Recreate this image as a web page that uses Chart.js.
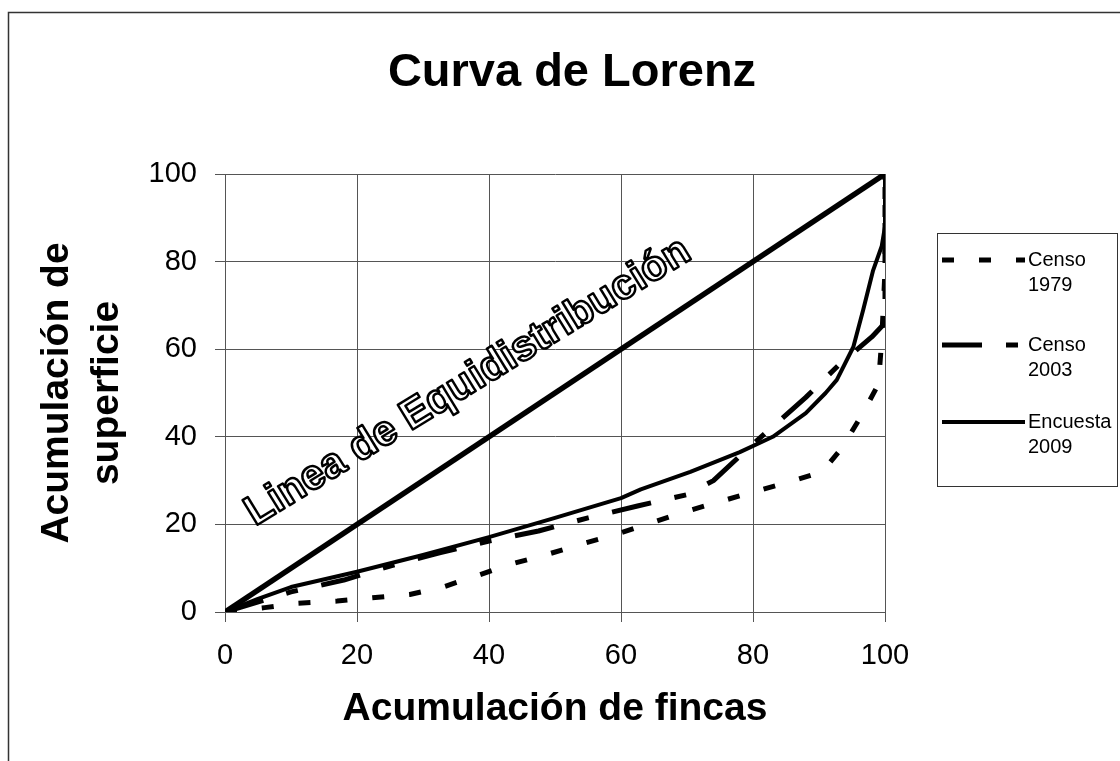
<!DOCTYPE html>
<html lang="es">
<head>
<meta charset="UTF-8">
<title>Curva de Lorenz</title>
<script src="https://cdn.jsdelivr.net/npm/chart.js"></script>
<style>
  body { margin: 0; background: #fff; }
  canvas { display: block; }
</style>
</head>
<body>
<canvas id="lorenz" width="1120" height="761"></canvas>
<script>
    // values (x = % fincas, y = % superficie)
    const equiX = [0, 100];
    const equiY = [0, 100];

    const censo1979X = [0, 6, 11, 17, 22, 28, 33, 38, 43.5, 48.5, 54, 59, 64.5, 69.5, 74.5, 80, 85, 90.5, 93.5, 96.5, 99, 99.5, 100, 100];
    const censo1979Y = [0, 1, 2, 2.5, 3.2, 4, 5.7, 8.2, 11, 13, 15.5, 17.6, 20.3, 22.8, 25, 27.4, 29.5, 32, 37.5, 45, 52, 62, 78, 100];

    const censo2003X = [0, 10, 18, 25, 32.5, 40, 47.5, 55, 62.5, 70, 74, 78.5, 82, 88, 93, 98, 100, 100];
    const censo2003Y = [0, 4.6, 7.3, 10.5, 13.5, 16.2, 18.5, 21.5, 24.2, 26.8, 30, 36.3, 41, 49, 56.4, 62.8, 66, 100];

    const encuestaX = [0, 5, 10, 20, 30, 40, 50, 60, 63, 70.5, 78, 83, 88, 91, 92.7, 95.2, 96.7, 98.2, 99.5, 100, 100];
    const encuestaY = [0, 3, 5.7, 9.2, 13, 17.1, 21.5, 26, 28, 32, 36.5, 40, 45.4, 50, 53, 60.5, 69, 78, 83.5, 88, 100];

    const seriesNames = [["Censo", "1979"], ["Censo", "2003"], ["Encuesta", "2009"]];
    const axisTicks = [0, 20, 40, 60, 80, 100];

    const FONT = "'Liberation Sans', Arial, sans-serif";

    function pts(xs, ys) {
        return xs.map((x, i) => ({ x: x, y: ys[i] }));
    }

    // title, legend box, outlined label and page frame
    const decorations = {
        id: "decorations",
        afterDatasetsDraw(chart) {
            const ctx = chart.ctx;
            const xs = chart.scales.x, ys = chart.scales.y;

            // outlined label along the equality line
            ctx.save();
            ctx.translate(xs.getPixelForValue(4.6), ys.getPixelForValue(19.6));
            ctx.rotate(-31.5 * Math.PI / 180);
            ctx.font = "bold 42px " + FONT;
            ctx.textBaseline = "alphabetic";
            ctx.lineJoin = "round";
            ctx.fillStyle = "#fff";
            ctx.fillText("Linea de Equidistribución", 0, 0);
            ctx.strokeStyle = "#000";
            ctx.lineWidth = 2.5;
            ctx.strokeText("Linea de Equidistribución", 0, 0);
            ctx.restore();
        },
        afterDraw(chart) {
            const ctx = chart.ctx;
            ctx.save();

            // frame
            ctx.strokeStyle = "#333";
            ctx.lineWidth = 1.5;
            ctx.beginPath();
            ctx.moveTo(8.5, 761);
            ctx.lineTo(8.5, 12.5);
            ctx.lineTo(1120, 12.5);
            ctx.stroke();

            // title
            ctx.fillStyle = "#000";
            ctx.font = "bold 47px " + FONT;
            ctx.textAlign = "center";
            ctx.textBaseline = "alphabetic";
            ctx.fillText("Curva de Lorenz", 572, 86);

            // legend
            ctx.strokeStyle = "#333";
            ctx.lineWidth = 1;
            ctx.strokeRect(937.5, 233.5, 180, 253);
            const rows = [260, 345, 422];
            ctx.font = "20px " + FONT;
            ctx.textAlign = "left";
            ctx.textBaseline = "middle";
            for (let i = 0; i < 3; i++) {
                const ds = chart.data.datasets[i + 1];
                ctx.strokeStyle = ds.borderColor;
                ctx.lineWidth = ds.borderWidth;
                ctx.setLineDash(ds.borderDash || []);
                ctx.beginPath();
                ctx.moveTo(942, rows[i]);
                ctx.lineTo(1025, rows[i]);
                ctx.stroke();
                ctx.setLineDash([]);
                ctx.fillStyle = "#000";
                ctx.fillText(seriesNames[i][0], 1028, rows[i]);
                ctx.fillText(seriesNames[i][1], 1028, rows[i] + 25);
            }
            ctx.restore();
        }
    };

    const ctx = document.getElementById("lorenz").getContext("2d");
    const lorenzChart = new Chart(ctx, {
        type: "scatter",
        data: {
            datasets: [
                { label: "Equidistribución", data: pts(equiX, equiY), borderColor: "#000", borderWidth: 5.5 },
                { label: "Censo 1979", data: pts(censo1979X, censo1979Y), borderColor: "#000", borderWidth: 5, borderDash: [12, 25] },
                { label: "Censo 2003", data: pts(censo2003X, censo2003Y), borderColor: "#000", borderWidth: 5, borderDash: [40, 24, 12, 24] },
                { label: "Encuesta 2009", data: pts(encuestaX, encuestaY), borderColor: "#000", borderWidth: 4 }
            ]
        },
        options: {
            responsive: false,
            devicePixelRatio: 1,
            animation: false,
            showLine: true,
            elements: {
                point: { radius: 0, hoverRadius: 0 },
                line: { tension: 0, fill: false, borderCapStyle: "butt", borderJoinStyle: "round" }
            },
            layout: { padding: { top: 174, left: 0, right: 235, bottom: 0 } },
            plugins: {
                legend: { display: false },
                title: { display: false },
                tooltip: { enabled: false }
            },
            scales: {
                x: {
                    type: "linear",
                    min: 0, max: 100,
                    afterFit(scale) { scale.height = 149; },
                    afterBuildTicks(scale) { scale.ticks = axisTicks.map(v => ({ value: v })); },
                    ticks: { color: "#000", font: { family: FONT, size: 29 }, padding: 17, maxRotation: 0 },
                    grid: { color: "#555", lineWidth: 1, tickLength: 10, drawTicks: true },
                    border: { color: "#555", width: 1 },
                    title: {
                        display: true,
                        text: "Acumulación de fincas",
                        color: "#000",
                        font: { family: FONT, size: 39, weight: "bold", lineHeight: 1.2 },
                        padding: { top: 0, bottom: 28 }
                    }
                },
                y: {
                    type: "linear",
                    min: 0, max: 100,
                    afterFit(scale) { scale.width = 225; },
                    afterBuildTicks(scale) { scale.ticks = axisTicks.map(v => ({ value: v })); },
                    ticks: { color: "#000", font: { family: FONT, size: 29 }, padding: 18 },
                    grid: { color: "#555", lineWidth: 1, tickLength: 10, drawTicks: true },
                    border: { color: "#555", width: 1 },
                    title: {
                        display: true,
                        text: ["Acumulación de", "superficie"],
                        color: "#000",
                        font: { family: FONT, size: 39, weight: "bold", lineHeight: 1.28 },
                        padding: { top: 32, bottom: 0 }
                    }
                }
            }
        },
        plugins: [decorations]
    });
</script>
</body>
</html>
